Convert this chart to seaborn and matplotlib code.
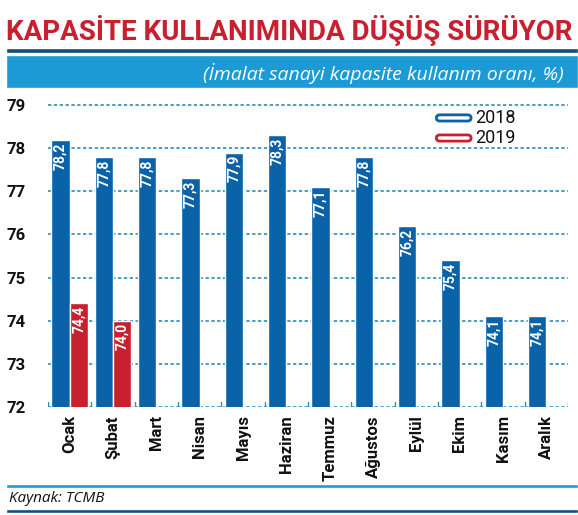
import matplotlib
matplotlib.use("Agg")
import matplotlib.pyplot as plt
import seaborn as sns
import pandas as pd
import numpy as np

months = ["Ocak","Şubat","Mart","Nisan","Mayıs","Haziran","Temmuz","Ağustos","Eylül","Ekim","Kasım","Aralık"]
v2018 = [78.2,77.8,77.8,77.3,77.9,78.3,77.1,77.8,76.2,75.4,74.1,74.1]
v2019 = [74.4,74.0]
years = ["2018","2019"]

rows = []
for i, m in enumerate(months):
    rows.append((m, "2018", v2018[i]))
    rows.append((m, "2019", v2019[i] if i < len(v2019) else np.nan))
df = pd.DataFrame(rows, columns=["ay","yil","deger"])

sns.set_theme(style="white")
plt.rcParams['font.family'] = ['Roboto', 'DejaVu Sans']
BLUE = "#0a62a8"; RED = "#c8202f"; CYAN = "#1b9ad6"; NAVY = "#0d4f7e"

fig = plt.figure(figsize=(5.78,5.15), dpi=100)
ax = fig.add_axes([0.083, 0.21, 0.9, 0.611])
sns.barplot(data=df, x="ay", y="deger", hue="yil", palette=[BLUE, RED], width=0.85,
            ax=ax, legend=False, saturation=1, order=months, hue_order=years)
ax.set_ylim(72, 79.3)
ax.set_xlim(-0.5, 11.5)
ax.set_yticks(range(72, 80))
ax.set_xlabel(""); ax.set_ylabel("")
for s in ax.spines.values():
    s.set_visible(False)
for y in range(72, 80):
    ax.axhline(y, color="#2a8fb8", lw=1.2, ls=(0,(2,1.5)), zorder=0)
for x in np.arange(-0.5, 12, 1):
    ax.plot([x, x], [72, 72.12], color="#2a8fb8", lw=1, zorder=0)
ax.tick_params(axis="y", length=0, labelsize=12, pad=16)
ax.tick_params(axis="x", length=0, labelsize=12, rotation=90, pad=6)
for lab in ax.get_xticklabels() + ax.get_yticklabels():
    lab.set_fontweight("bold")
    lab.set_color("#111")

for cont, vals in zip(ax.containers, [v2018, v2019]):
    for bar, v in zip(cont, vals):
        ax.text(bar.get_x()+bar.get_width()/2, v-0.06, f"{v:.1f}".replace(".", ","),
                rotation=90, ha="center", va="top", color="white", fontsize=10, fontweight="bold")

# legend
for k, (c, t) in enumerate([(BLUE, "2018"), (RED, "2019")]):
    yy = 0.771 - k*0.039
    fig.patches.append(matplotlib.patches.FancyBboxPatch((0.755, yy-0.006), 0.06, 0.012,
        boxstyle="round,pad=0,rounding_size=0.006", transform=fig.transFigure,
        fc="white", ec=c, lw=2))
    fig.text(0.822, yy, t, fontsize=13, va="center", ha="left", color="#111")

# header
fig.text(0.5, 0.94, "KAPASİTE KULLANIMINDA DÜŞÜŞ SÜRÜYOR", ha="center", va="center",
         fontsize=20, fontweight="bold", color=RED)
fig.patches.append(matplotlib.patches.Rectangle((0.01, 0.898), 0.99, 0.008, transform=fig.transFigure, fc=NAVY))
fig.patches.append(matplotlib.patches.Rectangle((0.01, 0.83), 0.99, 0.063, transform=fig.transFigure, fc=CYAN))
fig.text(0.975, 0.858, "(İmalat sanayi kapasite kullanım oranı, %)", ha="right", va="center",
         fontsize=14, style="italic", color="white", family=["Open Sans", "DejaVu Sans"])
# footer
fig.patches.append(matplotlib.patches.Rectangle((0.01, 0.053), 0.99, 0.007, transform=fig.transFigure, fc=CYAN))
fig.patches.append(matplotlib.patches.Rectangle((0.01, 0.004), 0.99, 0.008, transform=fig.transFigure, fc=NAVY))
fig.text(0.015, 0.033, "Kaynak: TCMB", ha="left", va="center", fontsize=11, style="italic",
         color="#111", family=["Open Sans", "DejaVu Sans"])

fig.savefig("out.png", dpi=100)
